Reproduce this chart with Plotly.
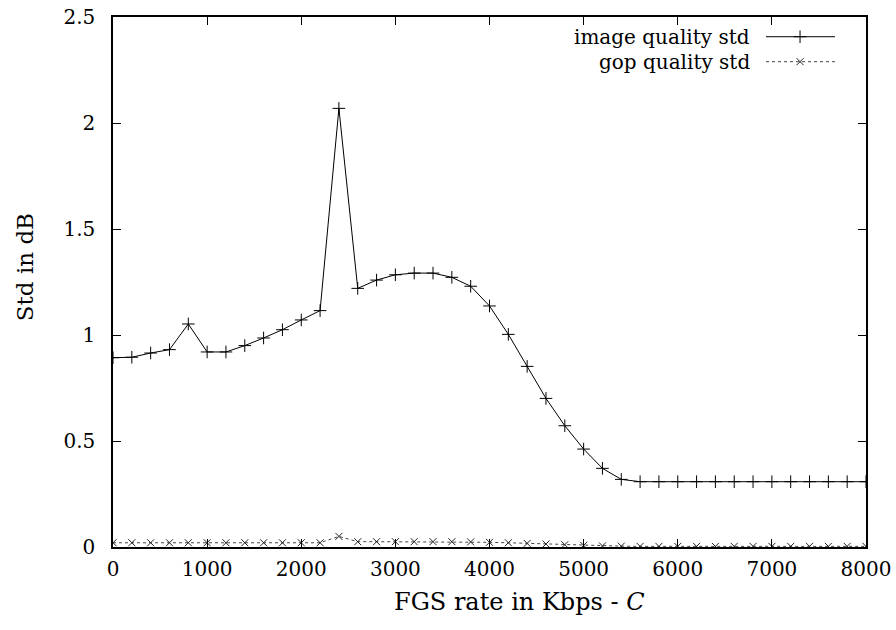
import plotly.graph_objects as go

# ---- data ----
rate = list(range(0, 8001, 200))
image_std = [0.893, 0.895, 0.915, 0.931, 1.052, 0.920, 0.920, 0.950, 0.986, 1.025,
             1.071, 1.115, 2.069, 1.220, 1.259, 1.284, 1.292, 1.292, 1.272, 1.230,
             1.137, 1.003, 0.852, 0.701, 0.572, 0.462, 0.371, 0.319, 0.308, 0.308,
             0.308, 0.308, 0.308, 0.308, 0.308, 0.308, 0.308, 0.308, 0.308, 0.308,
             0.308]
gop_std = [0.020, 0.020, 0.020, 0.020, 0.020, 0.020, 0.020, 0.020, 0.020, 0.020,
           0.020, 0.020, 0.050, 0.025, 0.025, 0.025, 0.025, 0.025, 0.025, 0.024,
           0.022, 0.020, 0.017, 0.014, 0.011, 0.008, 0.005, 0.004, 0.003, 0.003,
           0.003, 0.003, 0.003, 0.003, 0.003, 0.003, 0.003, 0.003, 0.003, 0.003,
           0.003]
x_ticks = [0, 1000, 2000, 3000, 4000, 5000, 6000, 7000, 8000]
y_ticks = [0, 0.5, 1, 1.5, 2, 2.5]
y_tick_text = ["0", "0.5", "1", "1.5", "2", "2.5"]
series_names = ["image quality std", "gop quality std"]

FONT = "DejaVu Serif"

fig = go.Figure()
fig.add_trace(go.Scatter(
    x=rate, y=image_std, mode="lines+markers", name=series_names[0],
    line=dict(color="black", width=1),
    marker=dict(symbol="cross-thin", size=9, line=dict(color="black", width=1)),
    showlegend=False))
fig.add_trace(go.Scatter(
    x=rate, y=gop_std, mode="lines+markers", name=series_names[1],
    line=dict(color="#444444", width=1, dash="3px,3px"),
    marker=dict(symbol="x-thin", size=7, line=dict(color="#222222", width=1)),
    showlegend=False))

# legend keys (drawn on an overlay axis in 0..1 units)
key_x0, key_x1, key_xm, text_x = 0.8672, 0.9588, 0.9124, 0.8486
rows_y = [0.9628, 0.9157]
fig.add_trace(go.Scatter(x=[key_x0, key_x1], y=[rows_y[0]] * 2, mode="lines",
                         line=dict(color="black", width=1), xaxis="x2", yaxis="y2",
                         showlegend=False, hoverinfo="skip"))
fig.add_trace(go.Scatter(x=[key_xm], y=[rows_y[0]], mode="markers",
                         marker=dict(symbol="cross-thin", size=9, line=dict(color="black", width=1)),
                         xaxis="x2", yaxis="y2", showlegend=False, hoverinfo="skip"))
fig.add_trace(go.Scatter(x=[key_x0, key_x1], y=[rows_y[1]] * 2, mode="lines",
                         line=dict(color="#444444", width=1, dash="3px,3px"), xaxis="x2", yaxis="y2",
                         showlegend=False, hoverinfo="skip"))
fig.add_trace(go.Scatter(x=[key_xm], y=[rows_y[1]], mode="markers",
                         marker=dict(symbol="x-thin", size=7, line=dict(color="#222222", width=1)),
                         xaxis="x2", yaxis="y2", showlegend=False, hoverinfo="skip"))

annotations = []
for name, yy in zip(series_names, rows_y):
    annotations.append(dict(text=name, x=text_x, y=yy, xref="paper", yref="paper",
                            xanchor="right", yanchor="middle", showarrow=False,
                            font=dict(family=FONT, size=20, color="black")))
annotations.append(dict(text="FGS rate in Kbps - <i>C</i>", x=0.5405, y=-0.103,
                        xref="paper", yref="paper", xanchor="center", yanchor="middle",
                        showarrow=False, font=dict(family=FONT, size=24, color="black")))
annotations.append(dict(text="Std in dB", x=-0.1169, y=0.528, textangle=-90,
                        xref="paper", yref="paper", xanchor="center", yanchor="middle",
                        showarrow=False, font=dict(family=FONT, size=23, color="black")))

axis_common = dict(showline=True, linecolor="black", linewidth=1.5, mirror="ticks",
                   ticks="inside", ticklen=8, tickwidth=1, tickcolor="black",
                   showgrid=False, zeroline=False, automargin=False,
                   tickfont=dict(family=FONT, size=20, color="black"))

fig.update_layout(
    width=896, height=630,
    margin=dict(l=113, r=30, t=17, b=83),
    paper_bgcolor="white", plot_bgcolor="white",
    xaxis=dict(range=[0, 8000], tickvals=x_ticks, ticklabelstandoff=3, **axis_common),
    yaxis=dict(range=[0, 2.5], tickvals=y_ticks, ticktext=y_tick_text,
               ticklabelstandoff=12, **axis_common),
    xaxis2=dict(overlaying="x", range=[0, 1], visible=False, anchor="y2"),
    yaxis2=dict(overlaying="y", range=[0, 1], visible=False, anchor="x2"),
    annotations=annotations,
)

fig.write_html("out.html")
